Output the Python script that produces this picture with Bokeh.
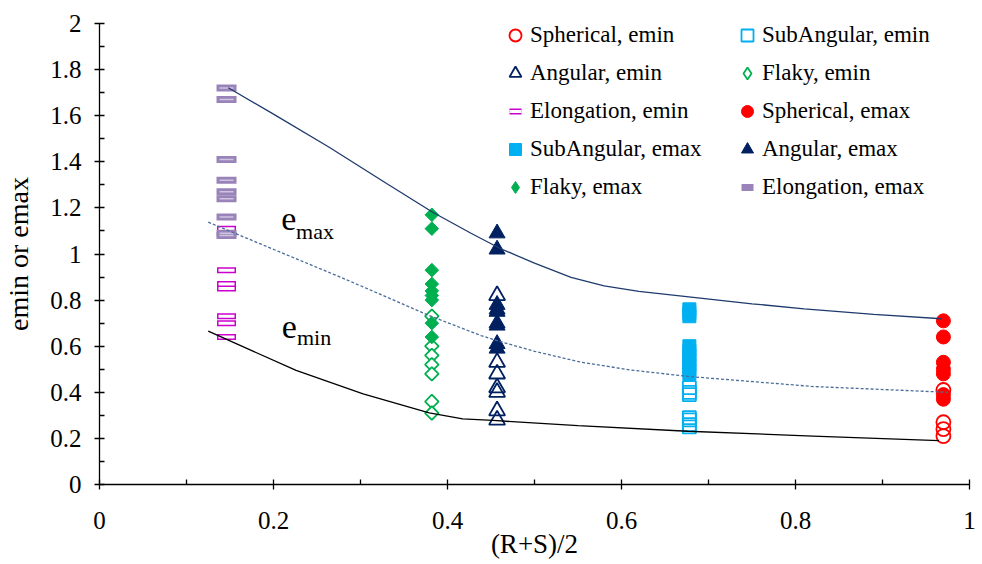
import math
from bokeh.plotting import figure
from bokeh.models import (Range1d, FixedTicker, CustomJSTickFormatter, Legend,
                          LegendItem, Label)
from bokeh.embed import file_html
from bokeh.resources import INLINE

SERIF = "Liberation Serif"

# (R+S)/2 of each particle shape class
SPHERICAL_X = 0.970
SUBANGULAR_X = 0.678
ANGULAR_X = 0.457
FLAKY_X = 0.382
ELONGATION_X = 0.146

# void ratios per shape class
spherical_emin = [0.41, 0.27, 0.24, 0.21]
spherical_emax = [0.71, 0.64, 0.53, 0.50, 0.48, 0.39, 0.37]
subangular_emin = [0.42, 0.40, 0.39, 0.29, 0.28, 0.26, 0.25]
subangular_emax = [0.76, 0.745, 0.73, 0.60, 0.58, 0.56, 0.54, 0.52, 0.50, 0.48]
angular_emin = [0.82, 0.53, 0.48, 0.42, 0.40, 0.32, 0.28]
angular_emax = [1.09, 1.02, 0.78, 0.76, 0.75, 0.70, 0.69, 0.61, 0.59]
flaky_emin = [0.73, 0.60, 0.56, 0.52, 0.48, 0.36, 0.31]
flaky_emax = [1.17, 1.11, 0.93, 0.87, 0.84, 0.82, 0.80, 0.70, 0.64]
elongation_emin = [1.11, 0.93, 0.87, 0.85, 0.73, 0.70, 0.64]
elongation_emax = [1.72, 1.67, 1.41, 1.32, 1.27, 1.24, 1.16, 1.09, 1.08]

# trend curves
emax_curve_x = [0.148, 0.20, 0.264, 0.33, 0.383, 0.427, 0.46, 0.50, 0.542, 0.58, 0.62,
                0.68, 0.75, 0.81, 0.89, 0.968]
emax_curve_y = [1.721, 1.607, 1.463, 1.306, 1.181, 1.090, 1.025, 0.960, 0.899, 0.862, 0.838,
                0.813, 0.784, 0.762, 0.738, 0.719]
mid_curve_x = [0.125, 0.2836, 0.379, 0.4386, 0.456, 0.50, 0.553, 0.61, 0.676, 0.821, 0.975]
mid_curve_y = [1.138, 0.889, 0.733, 0.646, 0.625, 0.578, 0.531, 0.497, 0.469, 0.425, 0.40]
emin_curve_x = [0.125, 0.226, 0.303, 0.379, 0.4175, 0.452, 0.55, 0.676, 0.82, 0.965]
emin_curve_y = [0.665, 0.495, 0.393, 0.311, 0.285, 0.278, 0.255, 0.231, 0.21, 0.19]

x_ticks = [0, 0.2, 0.4, 0.6, 0.8, 1.0]
x_minor = [0.1, 0.3, 0.5, 0.7, 0.9]
y_ticks = [0, 0.2, 0.4, 0.6, 0.8, 1.0, 1.2, 1.4, 1.6, 1.8, 2.0]
y_minor = [0.1, 0.3, 0.5, 0.7, 0.9, 1.1, 1.3, 1.5, 1.7, 1.9]

RED = "#FF0000"
CYAN = "#00B0F0"
NAVY = "#002060"
GREEN = "#00B050"
MAGENTA = "#CC00CC"
PURPLE = "#9983B8"

p = figure(width=982, height=564, x_range=Range1d(0, 1), y_range=Range1d(0, 2),
           output_backend="svg", toolbar_location=None,
           min_border_left=98, min_border_right=13, min_border_top=23,
           min_border_bottom=80)
p.xgrid.visible = False
p.ygrid.visible = False
p.outline_line_color = None
p.background_fill_color = "white"

fmt = CustomJSTickFormatter(code="return Number(tick.toFixed(1)).toString();")
p.xaxis.ticker = FixedTicker(ticks=x_ticks, minor_ticks=x_minor)
p.yaxis.ticker = FixedTicker(ticks=y_ticks, minor_ticks=y_minor)
for ax in (p.xaxis[0], p.yaxis[0]):
    ax.formatter = fmt
    ax.axis_line_color = "black"
    ax.axis_line_width = 1.3
    ax.major_tick_line_color = "black"
    ax.major_tick_line_width = 1.3
    ax.minor_tick_line_color = "black"
    ax.minor_tick_line_width = 1.3
    ax.major_tick_in = 5
    ax.major_tick_out = 5
    ax.minor_tick_in = 5
    ax.minor_tick_out = 0
    ax.major_label_text_font = SERIF
    ax.major_label_text_font_size = "25px"
    ax.major_label_text_color = "black"
    ax.axis_label_text_font = SERIF
    ax.axis_label_text_font_style = "normal"
    ax.axis_label_text_color = "black"
p.xaxis.axis_label = "(R+S)/2"
p.yaxis.axis_label = "emin or emax"
p.xaxis.axis_label_text_font_size = "27px"
p.yaxis.axis_label_text_font_size = "28px"
p.xaxis.major_label_standoff = 22
p.xaxis.axis_label_standoff = -3
p.yaxis.major_label_standoff = 13
p.yaxis.axis_label_standoff = 13


def col(x, ys):
    return dict(x=[x] * len(ys), y=ys)


OPEN_W = 1.8
DIAMOND_ANGLE = math.pi / 4

# emin series (open markers) drawn first, emax series on top
r_sph_min = p.scatter(source=col(SPHERICAL_X, spherical_emin), x="x", y="y", marker="circle",
                      size=14, line_color=RED, line_width=OPEN_W, fill_color=None)
r_sub_min = p.scatter(source=col(SUBANGULAR_X, subangular_emin), x="x", y="y", marker="square",
                      size=13, line_color=CYAN, line_width=OPEN_W, fill_color=None)
r_ang_min = p.scatter(source=col(ANGULAR_X, angular_emin), x="x", y="y", marker="triangle",
                      size=16, line_color=NAVY, line_width=OPEN_W, fill_color=None)
r_flk_min = p.scatter(source=col(FLAKY_X, flaky_emin), x="x", y="y", marker="diamond",
                      size=12, line_color=GREEN, line_width=OPEN_W, fill_color=None)
p.scatter(source=col(FLAKY_X, flaky_emin), x="x", y="y", marker="square", angle=DIAMOND_ANGLE,
          size=9.6, line_color=GREEN, line_width=OPEN_W, fill_color="white")
r_elo_min_a = p.scatter(source=col(ELONGATION_X, elongation_emin), x="x", y="y", marker="dash",
                        size=19, line_color=MAGENTA, line_width=6)
r_elo_min_b = p.scatter(source=col(ELONGATION_X, elongation_emin), x="x", y="y", marker="dash",
                        size=16, line_color="white", line_width=3)

r_sph_max = p.scatter(source=col(SPHERICAL_X, spherical_emax), x="x", y="y", marker="circle",
                      size=14, line_color=RED, fill_color=RED)
r_sub_max = p.scatter(source=col(SUBANGULAR_X, subangular_emax), x="x", y="y", marker="square",
                      size=13, line_color=CYAN, fill_color=CYAN)
r_ang_max = p.scatter(source=col(ANGULAR_X, angular_emax), x="x", y="y", marker="triangle",
                      size=16, line_color=NAVY, fill_color=NAVY)
r_flk_max = p.scatter(source=col(FLAKY_X, flaky_emax), x="x", y="y", marker="diamond",
                      size=12, line_color=GREEN, fill_color=GREEN)
p.scatter(source=col(FLAKY_X, flaky_emax), x="x", y="y", marker="square", angle=DIAMOND_ANGLE,
          size=9.6, line_color=GREEN, fill_color=GREEN)
r_elo_max = p.scatter(source=col(ELONGATION_X, elongation_emax), x="x", y="y", marker="dash",
                      size=20, line_color=PURPLE, line_width=7)
p.scatter(source=col(ELONGATION_X, elongation_emax), x="x", y="y", marker="dash",
          size=14, line_color="#CFC5E0", line_width=1.5)

# trend curves
p.line(emax_curve_x, emax_curve_y, line_color="#1F3A6E", line_width=1.3)
p.line(mid_curve_x, mid_curve_y, line_color="#4A6E99", line_width=1.3, line_dash="3 2")
p.line(emin_curve_x, emin_curve_y, line_color="black", line_width=1.3)

# curve annotations with subscripts
for txt, x, y, size in [("e", 0.209, 1.153, "34px"), ("max", 0.226, 1.099, "22px"),
                        ("e", 0.2096, 0.685, "34px"), ("min", 0.227, 0.639, "22px")]:
    p.add_layout(Label(x=x, y=y, text=txt, text_font=SERIF, text_font_size=size,
                       text_color="black", text_baseline="alphabetic", text_align="left"))

items = [
    LegendItem(label="Spherical, emin", renderers=[r_sph_min]),
    LegendItem(label="SubAngular, emin", renderers=[r_sub_min]),
    LegendItem(label="Angular, emin", renderers=[r_ang_min]),
    LegendItem(label="Flaky, emin", renderers=[r_flk_min]),
    LegendItem(label="Elongation, emin", renderers=[r_elo_min_a, r_elo_min_b]),
    LegendItem(label="Spherical, emax", renderers=[r_sph_max]),
    LegendItem(label="SubAngular, emax", renderers=[r_sub_max]),
    LegendItem(label="Angular, emax", renderers=[r_ang_max]),
    LegendItem(label="Flaky, emax", renderers=[r_flk_max]),
    LegendItem(label="Elongation, emax", renderers=[r_elo_max]),
]
legend = Legend(items=items, orientation="horizontal", ncols=2, location=(401, 282),
                glyph_width=30, glyph_height=30, label_standoff=0, label_width=194,
                spacing=8, padding=0, margin=0, border_line_color=None,
                background_fill_alpha=0, label_text_font=SERIF,
                label_text_font_size="23px", label_text_color="black")
p.add_layout(legend)

open("out.html", "w").write(file_html(p, INLINE))
